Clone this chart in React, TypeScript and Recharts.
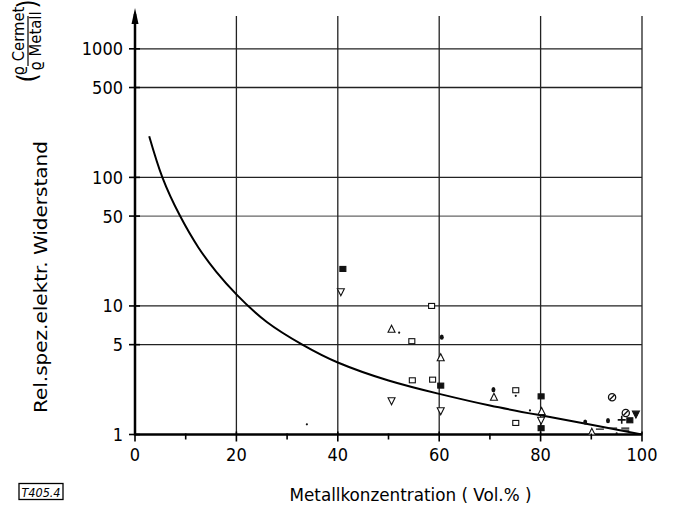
import React from 'react';
import { ComposedChart, Line, Scatter, XAxis, YAxis, ReferenceLine } from 'recharts';

const FONT = "'DejaVu Sans Condensed', 'Liberation Sans Narrow', 'DejaVu Sans', sans-serif";

// axes
const xTicks = [0, 10, 20, 30, 40, 50, 60, 70, 80, 90, 100];
const xLabelled = [0, 20, 40, 60, 80, 100];
const yTicks = [1, 5, 10, 50, 100, 500, 1000];
const xGrid = [20, 40, 60, 80, 100];
const yGrid = [5, 10, 50, 100, 500, 1000];

// drawn trend curve
const curve = [
  { x: 2.8, y: 209 },
  { x: 5.4, y: 100 },
  { x: 8.9, y: 50 },
  { x: 12.5, y: 28.5 },
  { x: 16, y: 18.5 },
  { x: 20, y: 12.3 },
  { x: 26, y: 7.5 },
  { x: 33, y: 5.0 },
  { x: 40, y: 3.63 },
  { x: 50, y: 2.63 },
  { x: 60, y: 2.07 },
  { x: 70, y: 1.68 },
  { x: 80, y: 1.41 },
  { x: 90, y: 1.19 },
  { x: 100, y: 1.0 },
];

// measured points, one list per marker type
const filledSquares = [
  { x: 41, y: 19.4 },
  { x: 60.3, y: 2.4 },
  { x: 80.1, y: 1.98 },
  { x: 80.1, y: 1.12 },
  { x: 97.6, y: 1.29 },
];
const openDown = [
  { x: 40.6, y: 12.9 },
  { x: 50.6, y: 1.83 },
  { x: 60.3, y: 1.53 },
  { x: 80.1, y: 1.29 },
];
const openUp = [
  { x: 50.6, y: 6.58 },
  { x: 60.3, y: 3.95 },
  { x: 70.8, y: 1.95 },
  { x: 80.2, y: 1.51 },
  { x: 90.1, y: 1.04 },
];
const openSquares = [
  { x: 58.5, y: 10 },
  { x: 54.6, y: 5.32 },
  { x: 54.7, y: 2.64 },
  { x: 58.7, y: 2.67 },
  { x: 75.1, y: 2.21 },
  { x: 75.1, y: 1.23 },
];
const filledDots = [
  { x: 60.5, y: 5.72 },
  { x: 70.7, y: 2.23 },
  { x: 88.8, y: 1.25 },
  { x: 93.3, y: 1.28 },
];
const tinyDots = [
  { x: 33.9, y: 1.2 },
  { x: 52.1, y: 6.19 },
  { x: 75.1, y: 2.0 },
  { x: 77.9, y: 1.54 },
  { x: 95, y: 1.02 },
];
const slashedCircles = [
  { x: 94.1, y: 1.95 },
  { x: 96.8, y: 1.47 },
];
const filledDown = [{ x: 98.8, y: 1.44 }];
const plusMarks = [{ x: 96, y: 1.3 }];
const dashMarks = [
  { x: 91.7, y: 1.1 },
  { x: 94.3, y: 1.12 },
  { x: 96.7, y: 1.12 },
  { x: 96.7, y: 1.08 },
];

const S = '#111';

const triUp = (fill: string) => (p: any) => (
  <polygon
    points={`${p.cx},${p.cy - 4} ${p.cx - 3.5},${p.cy + 3} ${p.cx + 3.5},${p.cy + 3}`}
    fill={fill}
    stroke={S}
    strokeWidth={1.1}
  />
);
const triDown = (fill: string) => (p: any) => (
  <polygon
    points={`${p.cx - 3.5},${p.cy - 3} ${p.cx + 3.5},${p.cy - 3} ${p.cx},${p.cy + 4}`}
    fill={fill}
    stroke={S}
    strokeWidth={1.1}
  />
);
const square = (fill: string) => (p: any) => (
  <rect x={p.cx - 3} y={p.cy - 2.5} width={6} height={5} fill={fill} stroke={S} strokeWidth={1.1} />
);
const dot = (p: any) => <ellipse cx={p.cx} cy={p.cy} rx={2} ry={2.6} fill={S} />;
const tiny = (p: any) => <circle cx={p.cx} cy={p.cy} r={1.1} fill={S} />;
const slashed = (p: any) => (
  <g>
    <circle cx={p.cx} cy={p.cy} r={3.6} fill="none" stroke={S} strokeWidth={1.3} />
    <line x1={p.cx - 2.5} y1={p.cy + 2.5} x2={p.cx + 2.5} y2={p.cy - 2.5} stroke={S} strokeWidth={1.3} />
  </g>
);
const plus = (p: any) => (
  <g stroke={S} strokeWidth={1.6}>
    <line x1={p.cx - 4} x2={p.cx + 4} y1={p.cy} y2={p.cy} />
    <line x1={p.cx} x2={p.cx} y1={p.cy - 4} y2={p.cy + 4} />
  </g>
);
const dash = (p: any) => (
  <line x1={p.cx - 4} x2={p.cx + 4} y1={p.cy} y2={p.cy} stroke={S} strokeWidth={1.2} />
);

const XTick = (props: any) => {
  const { x, y, payload } = props;
  const major = xLabelled.includes(payload.value);
  return (
    <g>
      <line x1={x} x2={x} y1={y - (major ? 3 : 1)} y2={y + (major ? 7 : 5)} stroke="#000" strokeWidth={1.6} />
      {major && (
        <text x={x} y={y + 26} textAnchor="middle" fontFamily={FONT} fontSize={18} fill="#000">
          {payload.value}
        </text>
      )}
    </g>
  );
};

const YTick = (props: any) => {
  const { x, y, payload } = props;
  return (
    <g>
      <line x1={x - 6} x2={x + 5} y1={y} y2={y} stroke="#000" strokeWidth={1.6} />
      <text x={x - 12} y={y + 6.5} textAnchor="end" fontFamily={FONT} fontSize={18} fill="#000">
        {payload.value}
      </text>
    </g>
  );
};

const YDecor = (props: any) => {
  const vb = props.viewBox;
  const ax = vb.x + vb.width;
  const top = vb.y;
  const bottom = vb.y + vb.height;
  return (
    <g>
      <line x1={ax} x2={ax} y1={bottom + 1} y2={top - 2} stroke="#000" strokeWidth={2.5} />
      <polygon points={`${ax},${top - 8} ${ax - 3.5},${top + 8} ${ax + 3.5},${top + 8}`} fill="#000" />
      <text
        transform={`translate(41, ${top + 261}) rotate(-90)`}
        textAnchor="middle"
        dominantBaseline="central"
        fontFamily={FONT}
        fontSize={17}
        textLength={272}
        lengthAdjust="spacingAndGlyphs"
        fill="#000"
      >
        Rel.spez.elektr. Widerstand
      </text>
      <g transform={`translate(28, ${top + 25}) rotate(-90)`} fontFamily={FONT} fill="#000">
        <text x={0} y={-4} textAnchor="middle" fontSize={16.5}>ϱ Cermet</text>
        <line x1={-25} x2={25} y1={0} y2={0} stroke="#000" strokeWidth={1.2} />
        <text x={0} y={13} textAnchor="middle" fontSize={16.5}>ϱ Metall</text>
        <text x={-37} y={8} textAnchor="middle" fontSize={26}>(</text>
        <text x={37} y={8} textAnchor="middle" fontSize={26}>)</text>
      </g>
    </g>
  );
};

const XDecor = (props: any) => {
  const vb = props.viewBox;
  return (
    <g fontFamily={FONT} fill="#000">
      <text
        x={vb.x + vb.width / 2 + 22}
        y={vb.y + 66}
        textAnchor="middle"
        fontSize={17}
        textLength={242}
        lengthAdjust="spacingAndGlyphs"
      >
        Metallkonzentration ( Vol.% )
      </text>
      <rect x={19} y={vb.y + 49} width={44} height={16} fill="none" stroke="#000" strokeWidth={1.3} />
      <text x={41} y={vb.y + 62} textAnchor="middle" fontSize={12.5} fontStyle="italic">
        T405.4
      </text>
    </g>
  );
};

export default function App() {
  return (
    <div style={{ position: 'absolute', left: 0, top: 0, width: 673, height: 517, background: '#fff' }}>
      <ComposedChart width={673} height={517} margin={{ top: 16, right: 31, bottom: 22.5, left: 0 }}>
        <XAxis
          dataKey="x"
          type="number"
          domain={[0, 100]}
          ticks={xTicks}
          interval={0}
          tick={<XTick />}
          tickSize={0}
          tickMargin={0}
          tickLine={false}
          axisLine={{ stroke: '#000', strokeWidth: 2.5 }}
          height={60}
          allowDataOverflow
          label={<XDecor />}
        />
        <YAxis
          type="number"
          scale="log"
          domain={[1, 1800]}
          ticks={yTicks}
          interval={0}
          tick={<YTick />}
          tickSize={0}
          tickMargin={0}
          tickLine={false}
          axisLine={false}
          width={135}
          allowDataOverflow
          label={<YDecor />}
        />
        {yGrid.map((v) => (
          <ReferenceLine key={'h' + v} y={v} stroke={v === 50 ? '#666' : '#222'} strokeWidth={1.3} />
        ))}
        {xGrid.map((v) => (
          <ReferenceLine key={'v' + v} x={v} stroke="#222" strokeWidth={1.3} />
        ))}
        <Line data={curve} dataKey="y" type="natural" stroke="#000" strokeWidth={2} dot={false} isAnimationActive={false} />
        <Scatter data={filledSquares} dataKey="y" shape={square(S)} isAnimationActive={false} />
        <Scatter data={openDown} dataKey="y" shape={triDown('#fff')} isAnimationActive={false} />
        <Scatter data={openUp} dataKey="y" shape={triUp('#fff')} isAnimationActive={false} />
        <Scatter data={openSquares} dataKey="y" shape={square('#fff')} isAnimationActive={false} />
        <Scatter data={filledDots} dataKey="y" shape={dot} isAnimationActive={false} />
        <Scatter data={tinyDots} dataKey="y" shape={tiny} isAnimationActive={false} />
        <Scatter data={slashedCircles} dataKey="y" shape={slashed} isAnimationActive={false} />
        <Scatter data={filledDown} dataKey="y" shape={triDown(S)} isAnimationActive={false} />
        <Scatter data={plusMarks} dataKey="y" shape={plus} isAnimationActive={false} />
        <Scatter data={dashMarks} dataKey="y" shape={dash} isAnimationActive={false} />
      </ComposedChart>
    </div>
  );
}
